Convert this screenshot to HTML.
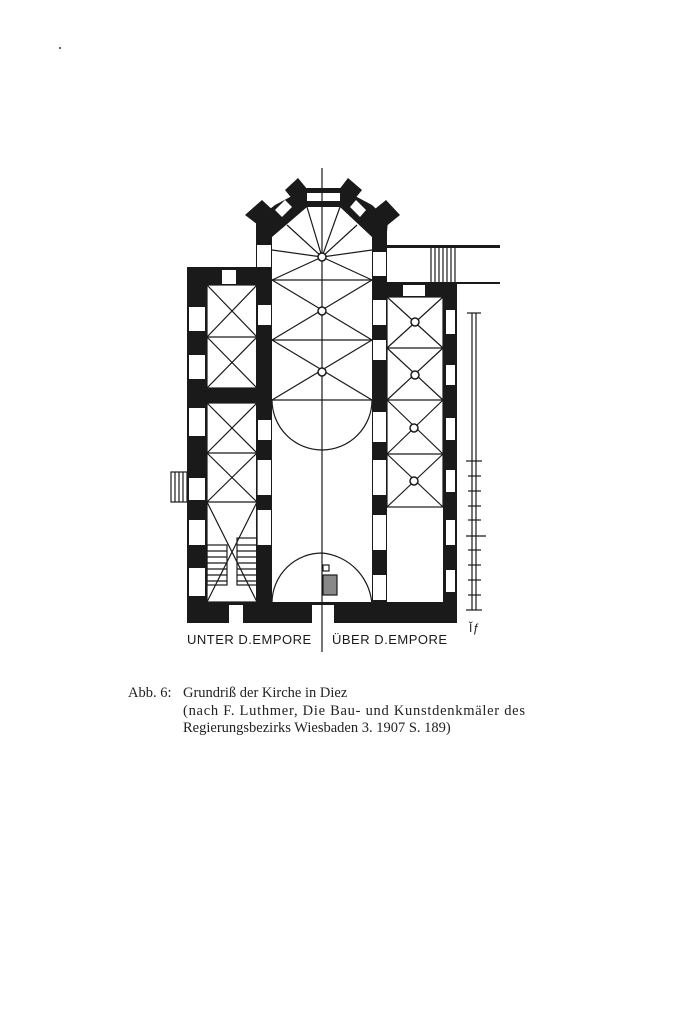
<!DOCTYPE html>
<html><head><meta charset="utf-8"><style>
html,body{margin:0;padding:0;background:#fff;}
body{width:700px;height:1028px;position:relative;overflow:hidden;}
svg{position:absolute;left:0;top:0;}
</style></head><body>
<svg width="700" height="1028" viewBox="0 0 700 1028" xmlns="http://www.w3.org/2000/svg">
<g fill="#1a1a1a" stroke="none">
<!-- left aisle walls -->
<rect x="187" y="267" width="85" height="18"/>
<rect x="187" y="267" width="20" height="356"/>
<rect x="187" y="602" width="270" height="21"/>
<rect x="207" y="388" width="50" height="15"/>
<!-- nave walls -->
<rect x="256" y="232" width="16" height="372"/>
<rect x="372" y="232" width="15" height="376"/>
<!-- right aisle -->
<rect x="387" y="283" width="70" height="14"/>
<rect x="443" y="283" width="14" height="340"/>
<!-- apse -->
<polygon points="256,232 256,250 272,250 272,237 307,207 340,207 372,237 372,250 387,250 387,232 388,220 372,205 340,188 307,188 275,205 256,220"/>
<polygon points="245,215 262,200 276,213 262,228"/>
<polygon points="285,190 298,178 312,195 297,205"/>
<polygon points="335,195 348,178 362,190 350,205"/>
<polygon points="370,213 386,200 400,215 384,228"/>
<!-- annex lines -->
<rect x="387" y="245" width="113" height="3"/>
<rect x="387" y="282" width="113" height="2"/>
</g>
<g fill="#fff">
<!-- apse windows -->
<rect x="307" y="193" width="33" height="8"/>
<polygon points="275,210 285,200 292,207 282,217"/>
<polygon points="356,200 366,210 360,217 350,207"/>
<rect x="257" y="245" width="14" height="22"/>
<rect x="373" y="252" width="13" height="24"/>
<!-- left outer wall windows -->
<rect x="189" y="307" width="16" height="24"/><rect x="189" y="355" width="16" height="24"/>
<rect x="189" y="408" width="16" height="28"/><rect x="189" y="478" width="16" height="22"/>
<rect x="189" y="520" width="16" height="25"/><rect x="189" y="568" width="16" height="28"/>
<rect x="222" y="270" width="14" height="14"/>
<!-- nave left wall -->
<rect x="258" y="305" width="13" height="20"/><rect x="258" y="420" width="13" height="20"/>
<rect x="257" y="460" width="14" height="35"/><rect x="257" y="510" width="14" height="35"/>
<!-- nave right wall -->
<rect x="373" y="300" width="13" height="25"/><rect x="373" y="340" width="13" height="20"/>
<rect x="373" y="412" width="13" height="30"/><rect x="373" y="460" width="13" height="35"/>
<rect x="373" y="515" width="13" height="35"/><rect x="373" y="575" width="13" height="25"/>
<!-- right outer wall -->
<rect x="446" y="310" width="9" height="24"/><rect x="446" y="365" width="9" height="20"/>
<rect x="446" y="418" width="9" height="22"/><rect x="446" y="470" width="9" height="22"/>
<rect x="446" y="520" width="9" height="25"/><rect x="446" y="570" width="9" height="22"/>
<rect x="403" y="285" width="22" height="11"/>
<!-- bottom door -->
<rect x="229" y="605" width="14" height="18"/><rect x="312" y="605" width="22" height="18"/>
</g>
<g stroke="#1a1a1a" stroke-width="1.2" fill="none">
<line x1="322" y1="168" x2="322" y2="652"/>
<!-- nave vaults -->
<line x1="272" y1="280" x2="372" y2="280"/><line x1="272" y1="340" x2="372" y2="340"/><line x1="272" y1="400" x2="372" y2="400"/>
<path d="M307,207 L322,257 L340,207 M287,225 L322,257 L357,225 M272,250 L322,257 L372,250 M272,280 L322,257 L372,280"/>
<path d="M272,280 L372,340 M372,280 L272,340 M272,340 L372,400 M372,340 L272,400"/>
<path d="M272,400 A50,50 0 0 0 372,400"/>
<path d="M272,602 A50,50 0 0 1 322,553 A55,55 0 0 1 372,607"/>
<!-- left aisle -->
<rect x="207" y="285" width="50" height="103"/><line x1="207" y1="337" x2="257" y2="337"/>
<path d="M207,285 L257,337 M257,285 L207,337 M207,337 L257,388 M257,337 L207,388"/>
<rect x="207" y="403" width="50" height="199"/>
<line x1="207" y1="453" x2="257" y2="453"/><line x1="207" y1="502" x2="257" y2="502"/>
<path d="M207,403 L257,453 M257,403 L207,453 M207,453 L257,502 M257,453 L207,502 M207,502 L257,602 M257,502 L207,602"/>
<!-- right aisle -->
<rect x="387" y="297" width="56" height="210"/>
<line x1="387" y1="348" x2="443" y2="348"/><line x1="387" y1="400" x2="443" y2="400"/><line x1="387" y1="454" x2="443" y2="454"/>
<path d="M387,297 L443,348 M443,297 L387,348 M387,348 L443,400 M443,348 L387,400 M387,400 L443,454 M443,400 L387,454 M387,454 L443,507 M443,454 L387,507"/>
<!-- scale bar -->
<line x1="472" y1="313" x2="472" y2="610"/><line x1="476" y1="313" x2="476" y2="610"/>
<line x1="467" y1="313" x2="481" y2="313"/>
<line x1="466" y1="461" x2="482" y2="461"/><line x1="468" y1="476" x2="481" y2="476"/>
<line x1="468" y1="491" x2="481" y2="491"/><line x1="468" y1="506" x2="481" y2="506"/>
<line x1="468" y1="520" x2="481" y2="520"/><line x1="466" y1="536" x2="486" y2="536"/>
<line x1="468" y1="550" x2="481" y2="550"/><line x1="468" y1="565" x2="481" y2="565"/>
<line x1="468" y1="580" x2="481" y2="580"/><line x1="468" y1="595" x2="481" y2="595"/>
<line x1="466" y1="610" x2="482" y2="610"/>
<!-- side porch -->
<rect x="171" y="472" width="16" height="30"/>
<path d="M175,472v30M179,472v30M183,472v30"/>
<!-- annex stairs -->
<path d="M431,248v34M435,248v34M439,248v34M443,248v34M447,248v34M451,248v34M455,248v34"/>
<!-- stairs left -->
<rect x="207" y="545" width="20" height="40"/><rect x="237" y="538" width="20" height="47"/>
<path d="M207,551h20M207,557h20M207,563h20M207,569h20M207,575h20M207,581h20M237,545h20M237,551h20M237,557h20M237,563h20M237,569h20M237,575h20M237,581h20"/>
<rect x="323" y="575" width="14" height="20" fill="#888"/>
<rect x="323" y="565" width="6" height="6"/>
</g>
<g fill="#fff" stroke="#1a1a1a" stroke-width="1.5">
<circle cx="322" cy="257" r="4"/><circle cx="322" cy="311" r="4"/><circle cx="322" cy="372" r="4"/>
<circle cx="415" cy="322" r="4"/><circle cx="415" cy="375" r="4"/><circle cx="414" cy="428" r="4"/><circle cx="414" cy="481" r="4"/>
</g>
<g font-family="Liberation Sans, sans-serif" font-size="13" fill="#1a1a1a" letter-spacing="0.5">
<text x="187" y="644">UNTER D.EMPORE</text>
<text x="332" y="644">ÜBER D.EMPORE</text>
<text x="469" y="632" font-size="12">Ĭƒ</text>
</g>
<g font-family="Liberation Serif, serif" font-size="14.5" fill="#222">
<text x="128" y="697">Abb. 6:</text>
<text x="183" y="697">Grundriß der Kirche in Diez</text>
<text x="183" y="715" textLength="342" lengthAdjust="spacing">(nach F. Luthmer, Die Bau- und Kunstdenkmäler des</text>
<text x="183" y="732">Regierungsbezirks Wiesbaden 3. 1907 S. 189)</text>
</g>
<circle cx="60" cy="48" r="1" fill="#333"/>
</svg>
</body></html>
